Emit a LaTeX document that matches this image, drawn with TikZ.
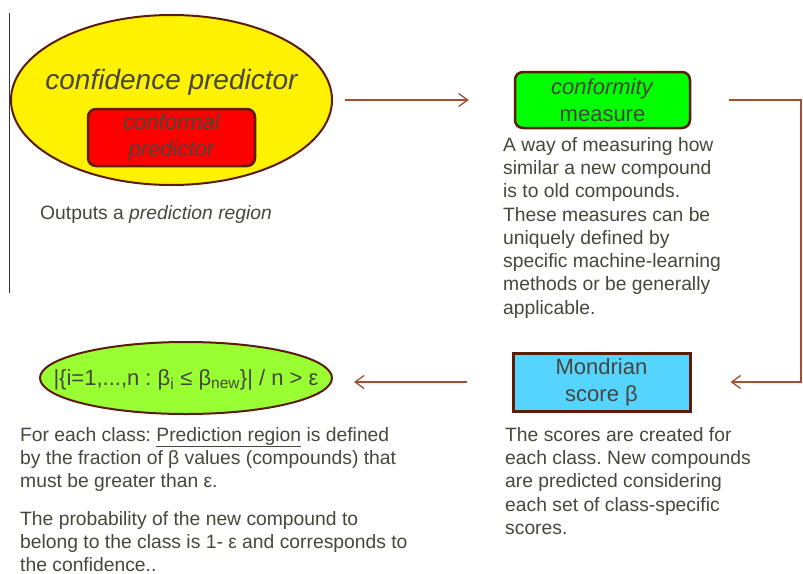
\documentclass[tikz,border=0pt]{standalone}
\usepackage{fontspec}
\setmainfont{Liberation Sans}
\usetikzlibrary{shapes.geometric,arrows.meta}
\frenchspacing

\definecolor{edgebrown}{RGB}{92,28,12}
\definecolor{flowbrown}{RGB}{165,78,50}
\definecolor{txtgray}{RGB}{70,70,60}
\definecolor{limefill}{RGB}{153,255,51}
\definecolor{skyfill}{RGB}{85,212,255}

\begin{document}
\begin{tikzpicture}[x=1pt,y=-1pt,
	bubble/.style={ellipse, draw=edgebrown, line width=2pt, inner sep=0pt},
	tile/.style={draw=edgebrown, line width=2.5pt, inner sep=0pt, text=txtgray, align=center, font=\fontsize{22}{27}\selectfont},
	note/.style={text=txtgray, align=left, inner sep=0pt, anchor=north west, font=\fontsize{19.3}{23.3}\selectfont},
	flow/.style={draw=flowbrown, line width=1.3pt, -{Straight Barb[length=9pt,width=13pt]}}]
	
	\useasboundingbox (0,0) rectangle (803,573);
	
	\draw[black!80, line width=1pt] (9.5,13) -- (9.5,293);
	
	\node[bubble, fill=yellow, minimum width=321, minimum height=170] (confpred) at (171.5,100) {};
	\node[anchor=base, inner sep=0pt, text=txtgray, font=\fontsize{28}{33}\selectfont\itshape] (conftext) at (171.5,89) {confidence predictor};
	\node[tile, fill=red, rounded corners=8pt, minimum width=167, minimum height=57, font=\fontsize{22}{27}\selectfont\itshape] (conformal) at (171.5,137.5) {conformal\\predictor};
	\node[note, anchor=base west] (outputs) at (40,219) {Outputs a \textit{prediction region}};
	
	\node[tile, fill=green, rounded corners=8pt, minimum width=175, minimum height=56] (measure) at (602.5,100) {\textit{conformity}\\measure};
	\node[note] (measuredesc) at (503,137) {A way of measuring how\\similar a new compound\\is to old compounds.\\These measures can be\\uniquely defined by\\specific machine-learning\\methods or be generally\\applicable.};
	
	\node[tile, fill=skyfill, line width=3pt, minimum width=177, minimum height=58] (mondrian) at (601.5,382) {Mondrian\\score β};
	\node[note] (mondriandesc) at (505,427) {The scores are created for\\each class. New compounds\\are predicted considering\\each set of class-specific\\scores.};
	
	\node[bubble, fill=limefill, minimum width=292, minimum height=72] (region) at (186,378) {};
	\node[anchor=base, inner sep=0pt, text=txtgray, font=\fontsize{22}{26}\selectfont] (regiontext) at (186,385) {|\{i=1,...,n : β\textsubscript{i} ≤ β\textsubscript{new}\}| / n > ε};
	\node[note] (regiondesc) at (20,427) {For each class: \underline{Prediction region} is defined\\by the fraction of β values (compounds) that\\must be greater than ε.};
	\node[note] (probdesc) at (20,511) {The probability of the new compound to\\belong to the class is 1- ε and corresponds to\\the confidence..};
	
	\coordinate (turn) at (801,100);
	\draw[flow, shorten <=12pt, shorten >=45pt] (confpred) -- (measure);
	\draw[flow, shorten <=38pt, shorten >=39pt] (measure.east) -- (turn) |- (mondrian.east);
	\draw[flow, shorten <=45pt, shorten >=21pt] (mondrian.west) -- (mondrian.west -| region.east);
\end{tikzpicture}
\end{document}
